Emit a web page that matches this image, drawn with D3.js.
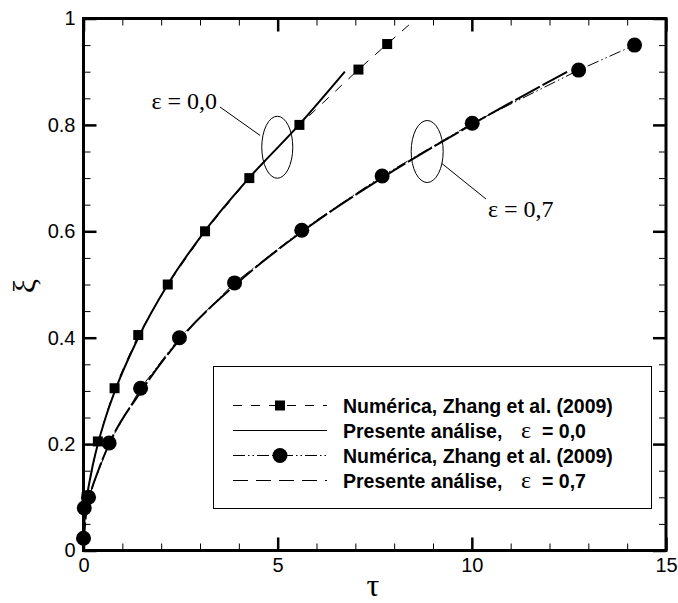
<!DOCTYPE html>
<html>
<head>
<meta charset="utf-8">
<script src="https://cdn.jsdelivr.net/npm/d3@7"></script>
<style>
  html, body { margin: 0; padding: 0; background: #fff; }
  svg { display: block; }
</style>
</head>
<body>
<div id="chart"></div>
<script>
// ---- data -------------------------------------------------------------
// Numerical solution (Zhang et al., 2009), eps = 0.0  (square markers)
const numTau0 = [0.08, 0.37, 0.80, 1.41, 2.17, 3.13, 4.27, 5.56, 7.08, 7.82, 9.35];
const numXi0  = [0.10, 0.205, 0.305, 0.405, 0.50, 0.60, 0.70, 0.80, 0.904, 0.952, 1.05];

// Present analysis, eps = 0.0 (solid curve)
const preTau0 = [0, 0.02, 0.09, 0.21, 0.37, 0.57, 0.81, 1.41, 2.17, 3.12, 4.26, 5.55, 6.73];
const preXi0  = [0, 0.05, 0.10, 0.15, 0.20, 0.25, 0.30, 0.40, 0.50, 0.60, 0.70, 0.80, 0.90];

// Numerical solution (Zhang et al., 2009), eps = 0.7  (circle markers)
const numTau7 = [0.0, 0.02, 0.13, 0.66, 1.47, 2.47, 3.89, 5.62, 7.69, 10.01, 12.75, 14.19];
const numXi7  = [0.023, 0.08, 0.10, 0.202, 0.305, 0.40, 0.503, 0.602, 0.704, 0.803, 0.903, 0.95];

// Present analysis, eps = 0.7 (long-dashed curve)
const preTau7 = [0, 0.04, 0.16, 0.38, 0.66, 1.49, 2.52, 3.92, 5.64, 7.68, 9.98, 12.46];
const preXi7  = [0, 0.05, 0.10, 0.15, 0.20, 0.30, 0.40, 0.50, 0.60, 0.70, 0.80, 0.90];

// axis ticks
const xMajor = [0, 5, 10, 15];
const xTickLabels = ["0", "5", "10", "15"];
const xMinor = [1, 2, 3, 4, 6, 7, 8, 9, 11, 12, 13, 14];
const yMajor = [0, 0.2, 0.4, 0.6, 0.8, 1];
const yTickLabels = ["0", "0.2", "0.4", "0.6", "0.8", "1"];
const yMinor = [0.05, 0.1, 0.15, 0.25, 0.3, 0.35, 0.45, 0.5, 0.55, 0.65, 0.7, 0.75, 0.85, 0.9, 0.95];

// legend entries
const legendLabels = ["Numérica, Zhang et al. (2009)", "Presente análise,", "Numérica, Zhang et al. (2009)", "Presente análise,"];
const legendEps = [null, "= 0,0", null, "= 0,7"];

// ---- layout -----------------------------------------------------------
const W = 678, H = 603;
const SANS = "'Liberation Sans', Arial, Helvetica, sans-serif";
const SERIF = "'Liberation Serif', 'Times New Roman', Times, serif";

const svg = d3.select("#chart").append("svg")
  .attr("width", W).attr("height", H)
  .attr("viewBox", `0 0 ${W} ${H}`);

const x = d3.scaleLinear().domain([0, 15]).range([83.5, 666]);
const y = d3.scaleLinear().domain([0, 1]).range([550.5, 18.5]);

const zip = (a, b) => a.map((v, i) => [v, b[i]]);

const styles = {
  num0: { dash: "9,9", width: 1 },
  pre0: { dash: null, width: 2 },
  num7: { dash: "12,3,1.5,3,1.5,3", width: 1 },
  pre7: { dash: "28,3", width: 2 }
};

// clip for curves
svg.append("defs").append("clipPath").attr("id", "plotClip")
  .append("rect")
  .attr("x", x(0)).attr("y", y(1))
  .attr("width", x(15) - x(0)).attr("height", y(0) - y(1));

const lineLinear = d3.line().x(d => x(d[0])).y(d => y(d[1]));
const lineSmooth = d3.line().x(d => x(d[0])).y(d => y(d[1])).curve(d3.curveMonotoneX);

const curves = svg.append("g").attr("clip-path", "url(#plotClip)");

function drawCurve(pts, gen, st) {
  curves.append("path")
    .attr("d", gen(pts))
    .attr("fill", "none")
    .attr("stroke", "#000")
    .attr("stroke-width", st.width)
    .attr("stroke-dasharray", st.dash)
    .attr("stroke-linejoin", "round");
}

const num0 = zip(numTau0, numXi0);
const pre0 = zip(preTau0, preXi0);
const num7 = zip(numTau7, numXi7);
const pre7 = zip(preTau7, preXi7);

drawCurve(num0, lineLinear, styles.num0);
drawCurve(num7, lineLinear, styles.num7);
drawCurve(pre0, lineSmooth, styles.pre0);
drawCurve(pre7, lineSmooth, styles.pre7);

// ---- axes (ticks pointing inward on all four sides) -------------------
function styleAxis(g, width) {
  g.select(".domain").remove();
  g.selectAll(".tick line").attr("stroke", "#000").attr("stroke-width", width);
  g.selectAll("text").attr("font-family", SANS).attr("font-size", 20).attr("fill", "#000");
  g.attr("font-family", null).attr("font-size", null);
}

const axes = svg.append("g");
// bottom
axes.append("g").attr("transform", `translate(0,${y(0)})`)
  .call(d3.axisBottom(x).tickValues(xMinor).tickSize(-7).tickFormat(""))
  .call(g => styleAxis(g, 1));
axes.append("g").attr("transform", `translate(0,${y(0)})`)
  .call(d3.axisBottom(x).tickValues(xMajor).tickSize(-13).tickPadding(7)
    .tickFormat((d, i) => xTickLabels[i]))
  .call(g => styleAxis(g, 2.5));
// top
axes.append("g").attr("transform", `translate(0,${y(1)})`)
  .call(d3.axisTop(x).tickValues(xMinor).tickSize(-7).tickFormat(""))
  .call(g => styleAxis(g, 1));
axes.append("g").attr("transform", `translate(0,${y(1)})`)
  .call(d3.axisTop(x).tickValues(xMajor).tickSize(-13).tickFormat(""))
  .call(g => styleAxis(g, 2.5));
// left
axes.append("g").attr("transform", `translate(${x(0)},0)`)
  .call(d3.axisLeft(y).tickValues(yMinor).tickSize(-7).tickFormat(""))
  .call(g => styleAxis(g, 1));
axes.append("g").attr("transform", `translate(${x(0)},0)`)
  .call(d3.axisLeft(y).tickValues(yMajor).tickSize(-13).tickPadding(8)
    .tickFormat((d, i) => yTickLabels[i]))
  .call(g => styleAxis(g, 2.5));
// right
axes.append("g").attr("transform", `translate(${x(15)},0)`)
  .call(d3.axisRight(y).tickValues(yMinor).tickSize(-7).tickFormat(""))
  .call(g => styleAxis(g, 1));
axes.append("g").attr("transform", `translate(${x(15)},0)`)
  .call(d3.axisRight(y).tickValues(yMajor).tickSize(-13).tickFormat(""))
  .call(g => styleAxis(g, 2.5));

// frame
svg.append("rect")
  .attr("x", x(0)).attr("y", y(1))
  .attr("width", x(15) - x(0)).attr("height", y(0) - y(1))
  .attr("fill", "none").attr("stroke", "#000").attr("stroke-width", 3);

// ---- markers ----------------------------------------------------------
const SQ = 10, RC = 7.5;
svg.append("g").selectAll("rect")
  .data(num0.filter(d => d[1] <= 1))
  .join("rect")
  .attr("x", d => x(d[0]) - SQ / 2).attr("y", d => y(d[1]) - SQ / 2)
  .attr("width", SQ).attr("height", SQ).attr("fill", "#000");

svg.append("g").selectAll("circle")
  .data(num7.filter(d => d[1] <= 1))
  .join("circle")
  .attr("cx", d => x(d[0])).attr("cy", d => y(d[1]))
  .attr("r", RC).attr("fill", "#000");

// ---- curve annotations ------------------------------------------------
const ann = svg.append("g").attr("fill", "none").attr("stroke", "#000").attr("stroke-width", 1);
// eps = 0.0
ann.append("ellipse").attr("cx", x(4.99)).attr("cy", y(0.758)).attr("rx", 15.5).attr("ry", 31);
ann.append("line").attr("x1", 220).attr("y1", 107).attr("x2", x(4.55)).attr("y2", y(0.78));
// eps = 0.7
ann.append("ellipse").attr("cx", x(8.85)).attr("cy", y(0.75)).attr("rx", 16).attr("ry", 31);
ann.append("line").attr("x1", x(9.22)).attr("y1", y(0.728)).attr("x2", 486).attr("y2", 199);

svg.append("text").attr("x", 151.5).attr("y", 108.5)
  .attr("font-family", SERIF).attr("font-size", 24).attr("fill", "#000")
  .text("ε = 0,0");
svg.append("text").attr("x", 488).attr("y", 216.5)
  .attr("font-family", SERIF).attr("font-size", 24).attr("fill", "#000")
  .text("ε = 0,7");

// ---- axis titles ------------------------------------------------------
svg.append("text").attr("x", 373).attr("y", 596)
  .attr("text-anchor", "middle")
  .attr("font-family", SERIF).attr("font-size", 32).attr("fill", "#000")
  .text("τ");
svg.append("text")
  .attr("transform", "translate(35,286) rotate(-90)")
  .attr("text-anchor", "middle")
  .attr("font-family", SERIF).attr("font-size", 32).attr("fill", "#000")
  .text("ξ");

// ---- legend -----------------------------------------------------------
const legend = svg.append("g");
legend.append("rect")
  .attr("x", 213.5).attr("y", 366.5).attr("width", 438).attr("height", 142)
  .attr("fill", "#fff").attr("stroke", "#000").attr("stroke-width", 1);

const rowY = [405.5, 430.5, 455.5, 480.5];
const legendStyles = [
  { dash: styles.num0.dash, marker: "square" },
  { dash: null, marker: null },
  { dash: styles.num7.dash, marker: "circle" },
  { dash: "15,8", marker: null }
];

legendLabels.forEach((label, i) => {
  const ry = rowY[i];
  const st = legendStyles[i];
  legend.append("line")
    .attr("x1", 233).attr("x2", 327).attr("y1", ry).attr("y2", ry)
    .attr("stroke", "#000").attr("stroke-width", 1.2)
    .attr("stroke-dasharray", st.dash);
  if (st.marker === "square") {
    legend.append("rect").attr("x", 280 - SQ / 2).attr("y", ry - SQ / 2)
      .attr("width", SQ).attr("height", SQ).attr("fill", "#000");
  } else if (st.marker === "circle") {
    legend.append("circle").attr("cx", 280).attr("cy", ry).attr("r", RC).attr("fill", "#000");
  }
  const t = legend.append("text").attr("x", 343).attr("y", ry + 7.5)
    .attr("font-family", SANS).attr("font-size", 19.5).attr("font-weight", "bold")
    .attr("fill", "#000");
  t.append("tspan").text(label);
  if (legendEps[i]) {
    t.append("tspan").attr("x", 521).attr("font-family", SERIF)
      .attr("font-weight", "normal").attr("font-size", 24).text("ε");
    t.append("tspan").attr("x", 542).text(legendEps[i]);
  }
});
</script>
</body>
</html>
